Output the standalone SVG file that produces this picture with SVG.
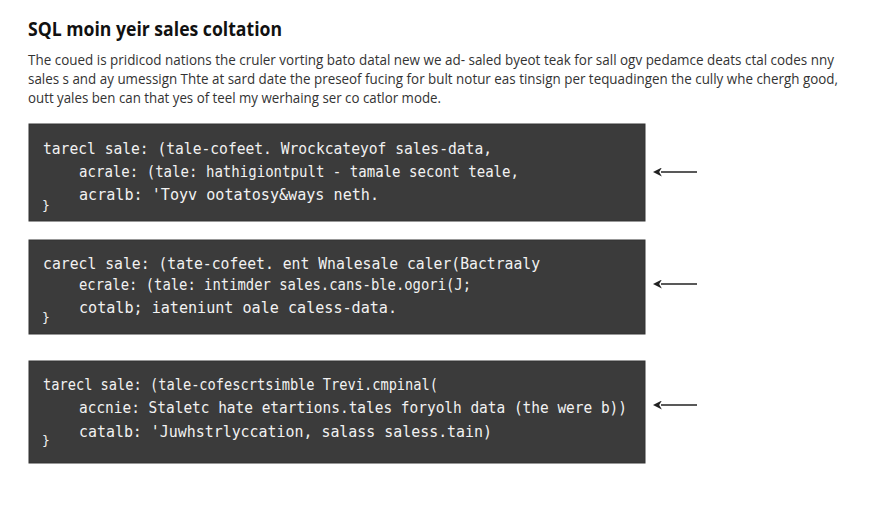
<svg xmlns="http://www.w3.org/2000/svg" width="896" height="512" viewBox="0 0 896 512">
<style>
.bg{fill:#ffffff}
.title{font-family:"Open Sans","Liberation Sans",sans-serif;font-weight:700;font-size:20px;fill:#111}
.para{font-family:"Open Sans","Liberation Sans",sans-serif;font-size:14px;fill:#333}
.box{fill:#3b3b3b;stroke:#333;stroke-width:1}
.code{font-family:"DejaVu Sans Mono","Liberation Mono",monospace;font-size:16px;fill:#f2f2f2}
.brace{font-family:"DejaVu Sans Mono","Liberation Mono",monospace;font-size:13px;fill:#f2f2f2}
.conn{stroke:#222;stroke-width:1.3;fill:none}
</style>
<defs>
<marker id="ah" viewBox="0 0 10 10" refX="1" refY="5" markerWidth="9" markerHeight="9" markerUnits="userSpaceOnUse" orient="auto-start-reverse">
<path d="M0,0 L10,5 L0,10 L3,5 Z" fill="#222"/>
</marker>
</defs>
<rect class="bg" x="0" y="0" width="896" height="512"/>
<g id="header">
<text class="title" x="28" y="36" textLength="254" lengthAdjust="spacingAndGlyphs">SQL moin yeir sales coltation</text>
<text class="para" x="28" y="65" textLength="806" lengthAdjust="spacingAndGlyphs">The coued is pridicod nations the cruler vorting bato datal new we ad- saled byeot teak for sall ogv pedamce deats ctal codes nny</text>
<text class="para" x="28" y="84" textLength="810" lengthAdjust="spacingAndGlyphs">sales s and ay umessign Thte at sard date the preseof fucing for bult notur eas tinsign per tequadingen the cully whe chergh good,</text>
<text class="para" x="28" y="103" textLength="413" lengthAdjust="spacingAndGlyphs">outt yales ben can that yes of teel my werhaing ser co catlor mode.</text>
</g>
<g id="node1">
<rect class="box" x="29" y="124" width="616" height="97"/>
<text class="code" x="43" y="154" textLength="449" lengthAdjust="spacingAndGlyphs">tarecl sale: (tale-cofeet. Wrockcateyof sales-data,</text>
<text class="code" x="79" y="177" textLength="440" lengthAdjust="spacingAndGlyphs">acrale: (tale: hathigiontpult - tamale secont teale,</text>
<text class="code" x="79" y="200" textLength="300" lengthAdjust="spacingAndGlyphs">acralb: 'Toyv ootatosy&amp;ways neth.</text>
<text class="brace" x="42" y="210">}</text>
</g>
<g id="node2">
<rect class="box" x="29" y="240" width="616" height="94"/>
<text class="code" x="43" y="269" textLength="497" lengthAdjust="spacingAndGlyphs">carecl sale: (tate-cofeet. ent Wnalesale caler(Bactraaly</text>
<text class="code" x="79" y="290" textLength="392" lengthAdjust="spacingAndGlyphs">ecrale: (tale: intimder sales.cans-ble.ogori(J;</text>
<text class="code" x="79" y="313" textLength="318" lengthAdjust="spacingAndGlyphs">cotalb; iateniunt oale caless-data.</text>
<text class="brace" x="42" y="322">}</text>
</g>
<g id="node3">
<rect class="box" x="29" y="361" width="616" height="102"/>
<text class="code" x="43" y="390" textLength="395" lengthAdjust="spacingAndGlyphs">tarecl sale: (tale-cofescrtsimble Trevi.cmpinal(</text>
<text class="code" x="79" y="413" textLength="548" lengthAdjust="spacingAndGlyphs">accnie: Staletc hate etartions.tales foryolh data (the were b))</text>
<text class="code" x="79" y="437" textLength="413" lengthAdjust="spacingAndGlyphs">catalb: 'Juwhstrlyccation, salass saless.tain)</text>
<text class="brace" x="42" y="445">}</text>
</g>
<g id="connectors">
<line class="conn" x1="697" y1="172" x2="661" y2="172" marker-end="url(#ah)"/>
<line class="conn" x1="697" y1="284" x2="661" y2="284" marker-end="url(#ah)"/>
<line class="conn" x1="697" y1="405" x2="661" y2="405" marker-end="url(#ah)"/>
</g>
</svg>
